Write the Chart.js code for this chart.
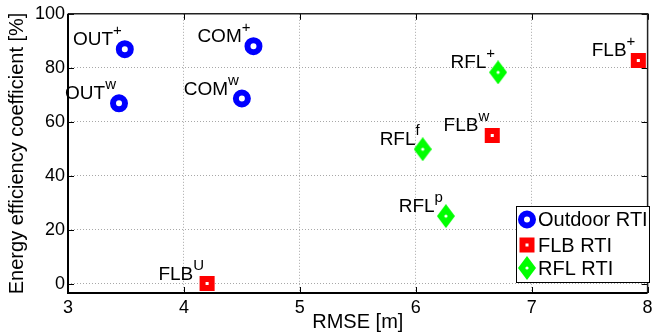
<!DOCTYPE html>
<html>
<head>
<meta charset="utf-8">
<script src="https://cdn.jsdelivr.net/npm/chart.js@4.4.0/dist/chart.umd.min.js"></script>
<style>
  html, body { margin: 0; padding: 0; background: #fff; }
  #wrap { width: 660px; height: 334px; }
</style>
</head>
<body>
<div id="wrap"><canvas id="chart"></canvas></div>
<script>
// Outdoor RTI
const outX = [3.49, 3.44, 4.60, 4.50];
const outY = [86.9, 66.8, 88.0, 68.6];
const outNames = ['OUT', 'OUT', 'COM', 'COM'];
const outSups = ['+', 'w', '+', 'w'];

// FLB RTI
const flbX = [7.92, 6.66, 4.20];
const flbY = [82.7, 54.9, 0];
const flbNames = ['FLB', 'FLB', 'FLB'];
const flbSups = ['+', 'w', 'U'];

// RFL RTI
const rflX = [6.71, 6.06, 6.26];
const rflY = [78.3, 49.8, 25.0];
const rflNames = ['RFL', 'RFL', 'RFL'];
const rflSups = ['+', 'f', 'p'];

const seriesNames = ['Outdoor RTI', 'FLB RTI', 'RFL RTI'];
const xTicks = [3, 4, 5, 6, 7, 8];
const yTicks = [0, 20, 40, 60, 80, 100];

const FONT = "'Liberation Sans', Arial, sans-serif";

// ruitvormige marker (groen met wit puntje)
function makeDiamond() {
    const c = document.createElement('canvas');
    c.width = 18; c.height = 24;
    const g = c.getContext('2d');
    g.fillStyle = '#00ff00';
    g.beginPath();
    g.moveTo(9, 0); g.lineTo(18, 12); g.lineTo(9, 24); g.lineTo(0, 12);
    g.closePath(); g.fill();
    g.fillStyle = '#fff';
    g.beginPath(); g.arc(9, 12, 1.6, 0, Math.PI * 2); g.fill();
    return c;
}
const diamond = makeDiamond();

function pts(xs, ys) {
    return xs.map((x, i) => ({ x: x, y: ys[i] }));
}

const ringStyle = { pointStyle: 'circle', radius: 6, borderWidth: 6, borderColor: '#0000ff', backgroundColor: '#fff' };
const squareStyle = { pointStyle: 'rect', radius: 6.4, borderWidth: 6, borderColor: '#ff0000', backgroundColor: '#fff' };

// labels met superscript links boven elk punt
const pointLabels = {
    id: 'pointLabels',
    afterDatasetsDraw(chart) {
        const ctx = chart.ctx;
        const groups = [[outNames, outSups], [flbNames, flbSups], [rflNames, rflSups]];
        ctx.save();
        ctx.fillStyle = '#000';
        ctx.textBaseline = 'alphabetic';
        groups.forEach((g, di) => {
            const meta = chart.getDatasetMeta(di);
            meta.data.forEach((el, i) => {
                ctx.font = '15px ' + FONT;
                const sw = ctx.measureText(g[1][i]).width;
                const supRight = el.x - 3;
                ctx.textAlign = 'right';
                ctx.fillText(g[1][i], supRight, el.y - 14);
                ctx.font = '19px ' + FONT;
                ctx.fillText(g[0][i], supRight - sw, el.y - 4);
            });
        });
        ctx.restore();
    }
};

// MATLAB-achtig kader, tickjes en legenda
const frameAndLegend = {
    id: 'frameAndLegend',
    beforeDatasetsDraw(chart) {
        const { ctx, chartArea: a, scales } = chart;
        ctx.save();
        ctx.strokeStyle = '#000';
        ctx.lineWidth = 1;
        xTicks.forEach(v => {
            const px = Math.round(scales.x.getPixelForValue(v)) + 0.5;
            ctx.beginPath();
            ctx.moveTo(px, a.bottom); ctx.lineTo(px, a.bottom - 6);
            ctx.moveTo(px, a.top); ctx.lineTo(px, a.top + 6);
            ctx.stroke();
        });
        yTicks.forEach(v => {
            const py = Math.round(scales.y.getPixelForValue(v)) + 0.5;
            ctx.beginPath();
            ctx.moveTo(a.left, py); ctx.lineTo(a.left + 6, py);
            ctx.moveTo(a.right, py); ctx.lineTo(a.right - 6, py);
            ctx.stroke();
        });
        ctx.strokeStyle = '#222';
        ctx.lineWidth = 1.5;
        ctx.beginPath();
        ctx.moveTo(a.left, a.top); ctx.lineTo(a.right, a.top); ctx.lineTo(a.right, a.bottom);
        ctx.stroke();
        ctx.strokeStyle = '#000';
        ctx.lineWidth = 2;
        ctx.beginPath();
        ctx.moveTo(a.left, a.top); ctx.lineTo(a.left, a.bottom); ctx.lineTo(a.right, a.bottom);
        ctx.stroke();
        ctx.restore();
    },
    afterDraw(chart) {
        const ctx = chart.ctx;
        const bx = 516.5, by = 206.5, bw = 133, bh = 76;
        ctx.save();
        ctx.fillStyle = '#fff';
        ctx.fillRect(bx, by, bw, bh);
        ctx.strokeStyle = '#000';
        ctx.lineWidth = 1;
        ctx.strokeRect(bx, by, bw, bh);
        const rows = [219.5, 245, 268];
        const mx = 527;
        // cirkel
        ctx.beginPath();
        ctx.arc(mx, rows[0], 6, 0, Math.PI * 2);
        ctx.fillStyle = '#fff'; ctx.fill();
        ctx.lineWidth = 6; ctx.strokeStyle = '#0000ff'; ctx.stroke();
        // vierkant
        ctx.fillStyle = '#ff0000';
        ctx.fillRect(mx - 7.5, rows[1] - 7.5, 15, 15);
        ctx.fillStyle = '#fff';
        ctx.fillRect(mx - 1.5, rows[1] - 1.5, 3, 3);
        // ruit
        ctx.drawImage(diamond, mx - 9, rows[2] - 12);
        ctx.fillStyle = '#000';
        ctx.font = '20px ' + FONT;
        ctx.textAlign = 'left';
        ctx.textBaseline = 'middle';
        seriesNames.forEach((n, i) => ctx.fillText(n, 538, rows[i] + 1));
        ctx.restore();
    }
};

const ctx = document.getElementById('chart').getContext('2d');
const chart = new Chart(ctx, {
    type: 'scatter',
    data: {
        datasets: [
            Object.assign({ label: seriesNames[0], data: pts(outX, outY) }, ringStyle),
            Object.assign({ label: seriesNames[1], data: pts(flbX, flbY) }, squareStyle),
            { label: seriesNames[2], data: pts(rflX, rflY), pointStyle: diamond }
        ]
    },
    options: {
        responsive: true,
        maintainAspectRatio: false,
        animation: false,
        events: [],
        layout: { padding: { top: 10, right: 5, left: 0, bottom: 0 } },
        plugins: {
            legend: { display: false },
            tooltip: { enabled: false }
        },
        scales: {
            x: {
                type: 'linear',
                min: 3, max: 8,
                afterBuildTicks: (s) => { s.ticks = xTicks.map(v => ({ value: v })); },
                afterFit: (s) => { s.height = 41; },
                grid: { color: '#a8a8a8', lineWidth: 1, tickLength: 0, drawTicks: false },
                border: { display: false, dash: [1, 2] },
                ticks: { color: '#000', font: { family: FONT, size: 18 }, padding: 4, maxRotation: 0 },
                title: { display: true, text: 'RMSE [m]', color: '#000', font: { family: FONT, size: 20 }, padding: { top: 0, bottom: 0 } }
            },
            y: {
                type: 'linear',
                min: -3.5, max: 100,
                afterBuildTicks: (s) => { s.ticks = yTicks.map(v => ({ value: v })); },
                afterFit: (s) => { s.width = 68; },
                grid: { color: '#a8a8a8', lineWidth: 1, tickLength: 0, drawTicks: false },
                border: { display: false, dash: [1, 2] },
                ticks: { color: '#000', font: { family: FONT, size: 18 }, padding: 3 },
                title: { display: true, text: 'Energy efficiency coefficient [%]', color: '#000', font: { family: FONT, size: 20 }, padding: { top: 5, bottom: 0 } }
            }
        }
    },
    plugins: [frameAndLegend, pointLabels]
});
</script>
</body>
</html>
